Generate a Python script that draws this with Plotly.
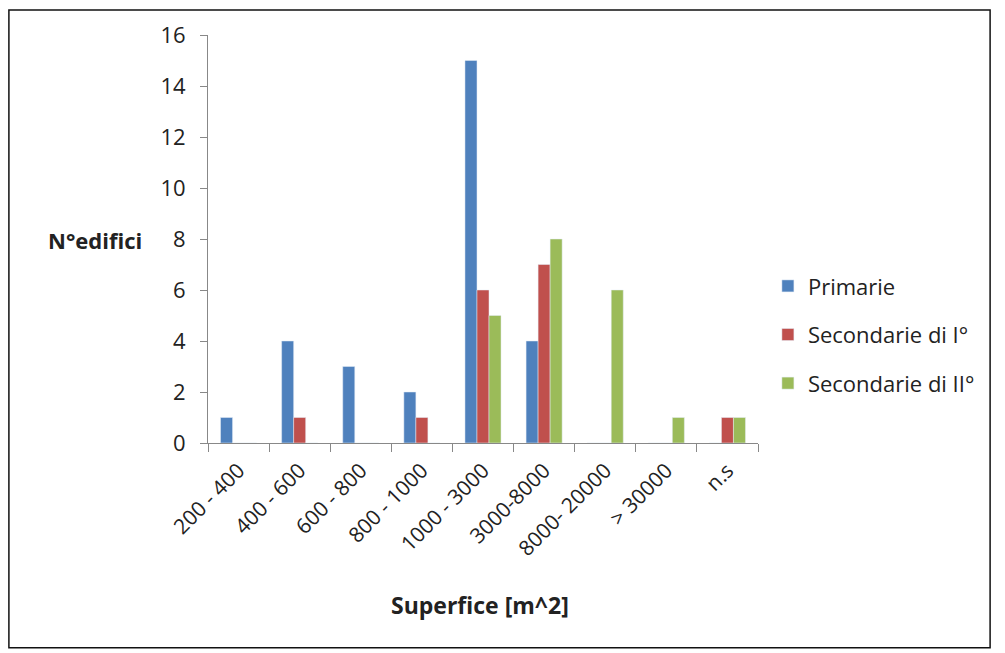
import plotly.graph_objects as go

categories = ["200 - 400", "400 - 600", "600 - 800", "800 - 1000", "1000 - 3000",
              "3000-8000", "8000- 20000", "> 30000", "n.s"]
primarie = [1, 4, 3, 2, 15, 4, 0, 0, 0]
secondarie_1 = [0, 1, 0, 1, 6, 7, 0, 0, 1]
secondarie_2 = [0, 0, 0, 0, 5, 8, 6, 1, 1]

FONT = "Open Sans, Noto Sans, sans-serif"

fig = go.Figure()
for name, vals, col in [
    ("Primarie", primarie, "#4F81BD"),
    ("Secondarie di I°", secondarie_1, "#C0504D"),
    ("Secondarie di II°", secondarie_2, "#9BBB59"),
]:
    fig.add_trace(go.Bar(x=categories, y=vals, name=name, marker_color=col,
                         legendgroup=name))

# page body has an 8px margin, so margins are shifted to keep the plot area in place
fig.update_layout(
    width=1005, height=653,
    barmode="group", bargap=0.41, bargroupgap=0,
    plot_bgcolor="white", paper_bgcolor="white",
    font=dict(family=FONT, color="#222", size=21),
    margin=dict(l=200, r=255, t=27, b=218),
    legend=dict(x=1.018, y=0.436, xanchor="left", yanchor="top",
                font=dict(size=22), tracegroupgap=17, itemwidth=30),
    showlegend=True,
)
fig.update_xaxes(type="category", showline=True, linecolor="#888", ticks="outside",
                 tickson="boundaries", ticklen=8, tickcolor="#888", tickangle=-45,
                 tickfont=dict(size=21), ticklabelstandoff=6)
fig.update_yaxes(range=[0, 16], dtick=2, showgrid=False, showline=True, linecolor="#888",
                 ticks="outside", ticklen=7, tickcolor="#888", tickfont=dict(size=22),
                 zeroline=False, ticklabelstandoff=10)

fig.add_annotation(text="<b>N°edifici</b>", xref="paper", yref="paper", x=-0.205, y=0.4975,
                   xanchor="center", yanchor="middle", showarrow=False, font=dict(size=22))
fig.add_annotation(text="<b>Superfice [m^2]</b>", xref="paper", yref="paper", x=0.495, y=-0.397,
                   xanchor="center", yanchor="middle", showarrow=False, font=dict(size=23))
fig.add_shape(type="rect", xref="paper", yref="paper", x0=-0.362, x1=1.422, y0=-0.502, y1=1.061,
              line=dict(color="#111", width=1.5))

fig.write_html("out.html")
